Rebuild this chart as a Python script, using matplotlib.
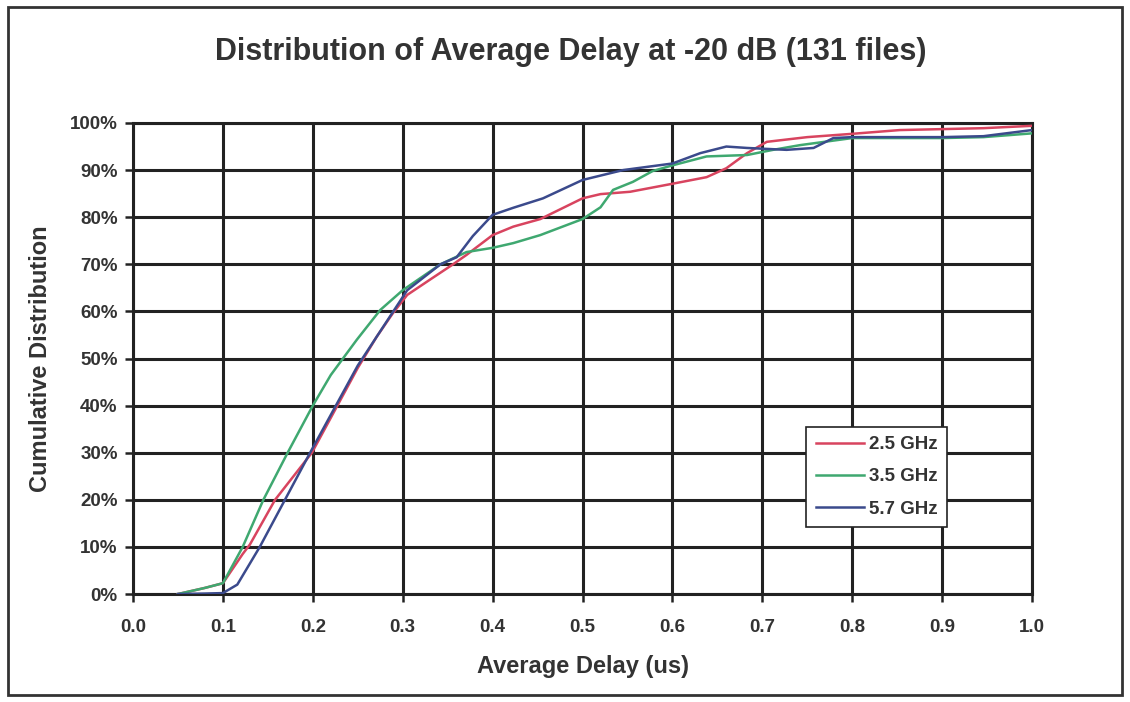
import numpy as np
import matplotlib.pyplot as plt
from matplotlib.patches import Rectangle
from matplotlib.ticker import MultipleLocator, FuncFormatter

plt.rcParams['font.family'] = ['Liberation Sans', 'DejaVu Sans']

# values (delay in us, cumulative %)
x_25 = [0.05, 0.08, 0.10, 0.122, 0.13, 0.158, 0.199, 0.25, 0.271, 0.289, 0.305, 0.33,
        0.356, 0.371, 0.40, 0.423, 0.453, 0.50, 0.52, 0.553, 0.60, 0.638, 0.66, 0.683,
        0.705, 0.75, 0.80, 0.853, 0.90, 0.946, 1.0]
y_25 = [0.0, 1.3, 2.3, 8.5, 10.5, 20.0, 30.0, 48.0, 54.6, 59.6, 63.5, 66.7,
        70.0, 72.0, 76.2, 78.0, 79.6, 84.0, 84.9, 85.4, 87.1, 88.5, 90.4, 93.6,
        96.0, 97.0, 97.7, 98.5, 98.7, 98.9, 99.4]

x_35 = [0.05, 0.08, 0.10, 0.122, 0.145, 0.172, 0.20, 0.22, 0.249, 0.275, 0.30, 0.342,
        0.371, 0.40, 0.423, 0.453, 0.50, 0.52, 0.534, 0.556, 0.578, 0.60, 0.638, 0.683,
        0.712, 0.742, 0.80, 0.90, 0.946, 1.0]
y_35 = [0.0, 1.3, 2.3, 10.0, 20.0, 30.0, 40.0, 46.5, 54.0, 60.3, 64.5, 70.0,
        72.6, 73.5, 74.5, 76.2, 79.6, 82.1, 85.8, 87.5, 89.8, 91.0, 92.9, 93.2,
        94.3, 95.3, 96.8, 96.8, 97.0, 97.8]

x_57 = [0.05, 0.08, 0.10, 0.116, 0.141, 0.169, 0.197, 0.25, 0.305, 0.342, 0.36, 0.378,
        0.40, 0.423, 0.456, 0.50, 0.545, 0.60, 0.631, 0.66, 0.683, 0.727, 0.757, 0.779,
        0.80, 0.90, 0.946, 1.0]
y_57 = [0.0, 0.1, 0.2, 2.0, 10.0, 20.0, 30.0, 48.5, 64.5, 70.0, 71.5, 76.0,
        80.5, 82.0, 84.0, 87.9, 90.0, 91.4, 93.6, 95.0, 94.7, 94.3, 94.7, 96.8,
        97.0, 97.0, 97.2, 98.5]

labels = ['2.5 GHz', '3.5 GHz', '5.7 GHz']
colors = ['#d8445f', '#3fa870', '#3b4a8c']

fig = plt.figure(figsize=(11.3, 7.02), dpi=100)
ax = fig.add_axes([0.1177, 0.1538, 0.7956, 0.671])

for xs, ys, lab, c in zip([x_25, x_35, x_57], [y_25, y_35, y_57], labels, colors):
    ax.plot(xs, ys, color=c, lw=1.8, label=lab, zorder=3)

ax.set_xlim(0, 1.0)
ax.set_ylim(0, 100)
ax.xaxis.set_major_locator(MultipleLocator(0.1))
ax.yaxis.set_major_locator(MultipleLocator(10))
ax.xaxis.set_major_formatter(FuncFormatter(lambda v, p: '%.1f' % v))
ax.yaxis.set_major_formatter(FuncFormatter(lambda v, p: '%d%%' % round(v)))
ax.grid(True, color='#222222', lw=2.2)
ax.set_axisbelow(True)
for s in ax.spines.values():
    s.set_color('#222222')
    s.set_linewidth(2.2)
ax.tick_params(length=6, width=1.8, color='#222222', labelsize=13.5)
ax.tick_params(axis='x', pad=12)
ax.tick_params(axis='y', pad=5)
for t in ax.get_xticklabels() + ax.get_yticklabels():
    t.set_fontweight('bold')
    t.set_color('#333333')

ax.set_xlabel('Average Delay (us)', fontsize=17, fontweight='bold', color='#333333', labelpad=14)
ax.set_ylabel('Cumulative Distribution', fontsize=17, fontweight='bold', color='#333333', labelpad=13)
fig.text(0.505, 0.926, 'Distribution of Average Delay at -20 dB (131 files)',
         ha='center', va='center', fontsize=22, fontweight='bold', color='#333333')

leg = ax.legend(loc='upper left', bbox_to_anchor=(0.749, 0.355), fancybox=False,
                edgecolor='#222222', framealpha=1, handlelength=2.6,
                prop={'weight': 'bold', 'size': 13.5}, borderpad=0.5, labelspacing=0.8,
                handletextpad=0.25, borderaxespad=0)
leg.get_frame().set_linewidth(1.2)
for t in leg.get_texts():
    t.set_color('#333333')

fig.patches.append(Rectangle((0.007, 0.01), 0.986, 0.98, transform=fig.transFigure,
                             fill=False, edgecolor='#333333', lw=2))

fig.savefig('out.png', dpi=100)
